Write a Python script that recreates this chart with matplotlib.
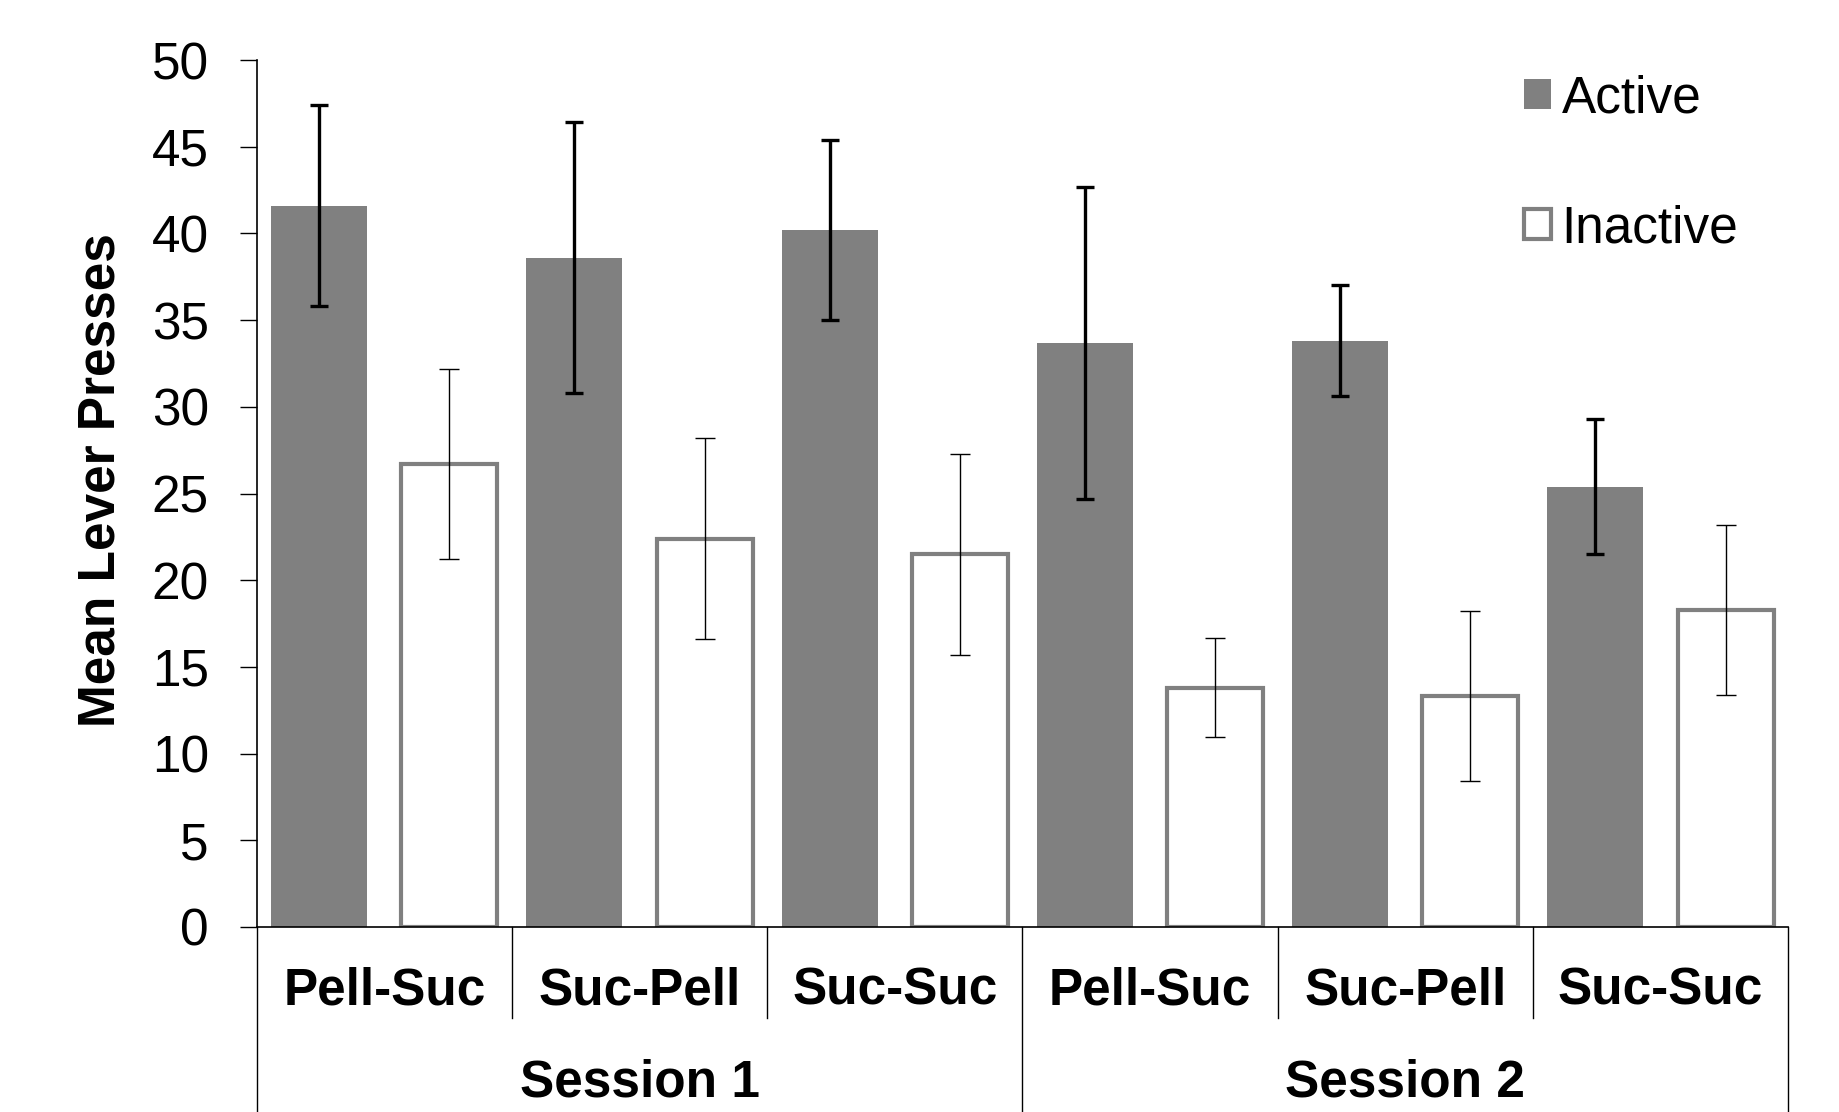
import matplotlib.pyplot as plt
import numpy as np
from matplotlib.patches import Patch

plt.rcParams["font.family"] = ["Liberation Sans", "DejaVu Sans"]

# ---------------------------------------------------------------------------
# Data
# ---------------------------------------------------------------------------
sessions   = ["Session 1", "Session 2"]
conditions = ["Pell-Suc", "Suc-Pell", "Suc-Suc"]

active_mean   = [41.6, 38.6, 40.2, 33.7, 33.8, 25.4]
active_sem    = [5.8, 7.8, 5.2, 9.0, 3.2, 3.9]
inactive_mean = [26.7, 22.4, 21.5, 13.8, 13.3, 18.3]
inactive_sem  = [5.5, 5.8, 5.8, 2.85, 4.9, 4.9]

GREY = "#808080"
FS = 37

# ---------------------------------------------------------------------------
# Plot
# ---------------------------------------------------------------------------
fig = plt.figure(figsize=(18.39, 11.12), dpi=100)
ax = fig.add_axes([0.1396, 0.1664, 0.8327, 0.7796])

n_groups = len(sessions) * len(conditions)
groups = np.arange(n_groups)
width = 0.376
x_act = groups + 0.245
x_ina = groups + 0.755

ax.bar(x_act, active_mean, width=width, color=GREY, linewidth=0, zorder=2)
ax.bar(x_ina, inactive_mean, width=width, color="white",
       edgecolor=GREY, linewidth=3, zorder=2)
ax.errorbar(x_act, active_mean, yerr=active_sem, fmt="none", ecolor="black",
            elinewidth=2.4, capsize=6.2, capthick=2.4, zorder=3)
ax.errorbar(x_ina, inactive_mean, yerr=inactive_sem, fmt="none", ecolor="black",
            elinewidth=1.0, capsize=7.2, capthick=1.0, zorder=3)

ax.set_xlim(0, n_groups)
ax.set_ylim(0, 50)
ax.set_yticks(np.arange(0, 51, 5))
ax.tick_params(axis="y", labelsize=FS, length=12.5, width=1, pad=22,
               direction="out")
ax.set_xticks([])
for side in ("top", "right"):
    ax.spines[side].set_visible(False)
ax.spines["left"].set_linewidth(1.2)
ax.spines["bottom"].set_linewidth(1.2)

ax.set_ylabel("Mean Lever Presses", fontsize=FS, fontweight="bold")
ax.yaxis.label.set_verticalalignment("center")
ax.yaxis.set_label_coords(-0.102, 0.515)

# hierarchical category axis below the plot
xt = ax.get_xaxis_transform()
for b in range(n_groups + 1):
    bottom = -0.213 if b % len(conditions) == 0 else -0.105
    ax.plot([b, b], [0, bottom], color="black", lw=1.0, transform=xt,
            clip_on=False)
for i in groups:
    ax.text(i + 0.5, -0.0744, conditions[i % len(conditions)], transform=xt,
            ha="center", va="center", fontsize=FS, fontweight="bold")
for s, name in enumerate(sessions):
    ax.text(s * len(conditions) + len(conditions) / 2, -0.180, name,
            transform=xt, ha="center", va="center", fontsize=FS,
            fontweight="bold")

handles = [Patch(facecolor=GREY, linewidth=0),
           Patch(facecolor="white", edgecolor=GREY, linewidth=3)]
fig.legend(handles, ["Active", "Inactive"], loc="center left",
           bbox_to_anchor=(0.8287, 0.8527), frameon=False, fontsize=FS,
           handlelength=0.53, handleheight=0.53, handletextpad=0.2,
           labelspacing=1.58, borderpad=0, borderaxespad=0)

fig.savefig("out.png", dpi=100)
plt.close(fig)
